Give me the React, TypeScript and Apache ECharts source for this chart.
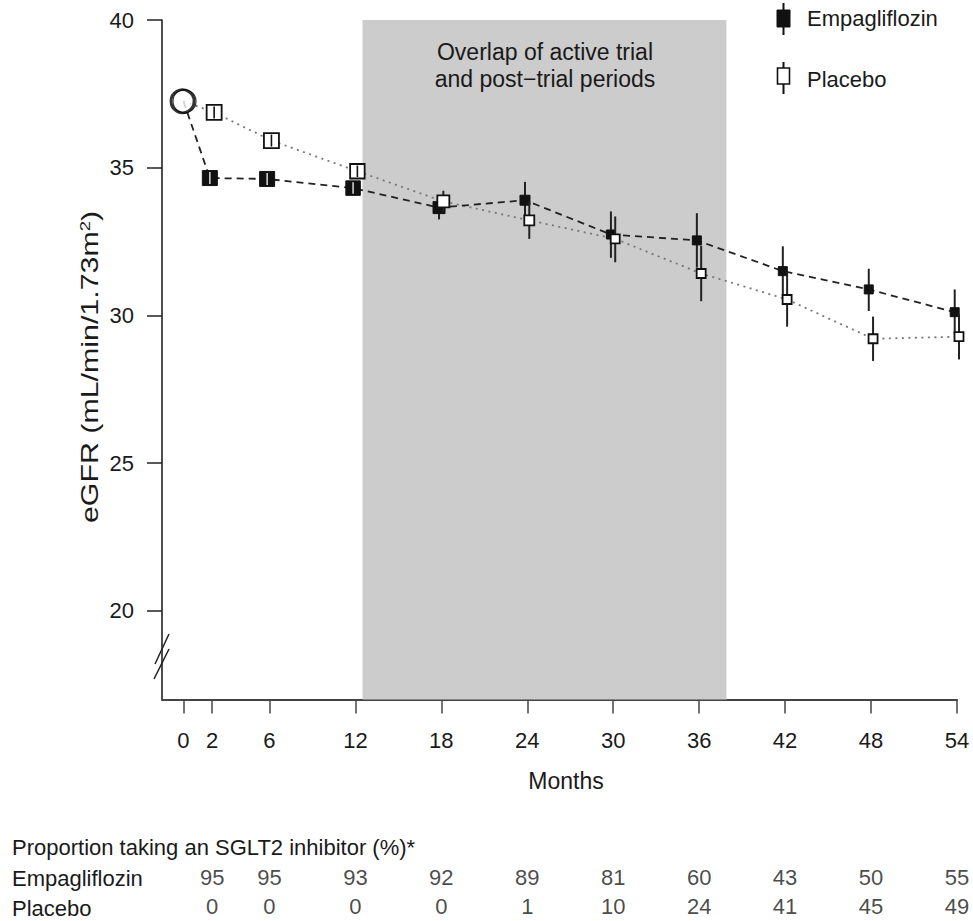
import React, { useEffect, useRef } from "react";
import * as echarts from "echarts";

// ---------- Data ----------
const months = [2, 6, 12, 18, 24, 30, 36, 42, 48, 54];
const baselineMonth = 0;
const baselineEgfr = 37.25;

const empaMean = [34.65, 34.62, 34.31, 33.65, 33.9, 32.74, 32.54, 31.5, 30.88, 30.11];
const empaLow = [34.5, 34.45, 34.12, 33.25, 33.28, 31.95, 31.62, 30.66, 30.15, 29.36];
const empaHigh = [34.8, 34.79, 34.5, 34.05, 34.52, 33.52, 33.46, 32.34, 31.58, 30.88];

const placeboMean = [36.87, 35.92, 34.88, 33.86, 33.22, 32.59, 31.42, 30.54, 29.21, 29.28];
const placeboLow = [36.7, 35.76, 34.71, 33.5, 32.59, 31.8, 30.48, 29.62, 28.46, 28.51];
const placeboHigh = [37.04, 36.08, 35.05, 34.22, 33.85, 33.35, 32.36, 31.47, 29.96, 30.07];

const xTickValues = [0, 2, 6, 12, 18, 24, 30, 36, 42, 48, 54];
const yTickValues = [20, 25, 30, 35, 40];
const overlapStart = 12.5;
const overlapEnd = 37.9;

const tableRows = ["Placebo", "Empagliflozin"];
const empaSglt2 = [95, 95, 93, 92, 89, 81, 60, 43, 50, 55];
const placeboSglt2 = [0, 0, 0, 0, 1, 10, 24, 41, 45, 49];

// ---------- Styles ----------
const FONT = "'Liberation Sans', Arial, Helvetica, sans-serif";
const TXT = "#1a1a1a";
const FS = 22;
const markerSize = [15, 15, 14.5, 12, 10, 9, 9, 9, 9, 9];
const empaDodge = -0.16;
const placeboDodge = 0.14;

function makeRender(filled: boolean) {
  return (params: any, api: any) => {
    const x = api.value(0);
    const m = api.value(1);
    const lo = api.value(2);
    const hi = api.value(3);
    const s = markerSize[params.dataIndex] ?? 9;
    const p = api.coord([x, m]);
    const pl = api.coord([x, lo]);
    const ph = api.coord([x, hi]);
    const children: any[] = [
      {
        type: "line",
        shape: { x1: p[0], y1: pl[1], x2: p[0], y2: ph[1] },
        style: { stroke: "#222", lineWidth: 2 },
      },
      {
        type: "rect",
        shape: { x: p[0] - s / 2, y: p[1] - s / 2, width: s, height: s },
        style: {
          fill: filled ? "#111" : "#fff",
          stroke: "#111",
          lineWidth: filled ? 1 : 1.8,
        },
      },
    ];
    if (s >= 13) {
      children.push({
        type: "line",
        shape: { x1: p[0], y1: p[1] - s / 2 + 1.5, x2: p[0], y2: p[1] + s / 2 - 1.5 },
        style: { stroke: filled ? "#cfcfcf" : "#111", lineWidth: 1.6 },
      });
    }
    return { type: "group", children };
  };
}

export default function App() {
  const ref = useRef<HTMLDivElement>(null);

  useEffect(() => {
    if (!ref.current) return;
    const chart = echarts.init(ref.current, undefined, { renderer: "svg" });

    const empaLine = [[baselineMonth, baselineEgfr], ...months.map((mo, i) => [mo + empaDodge, empaMean[i]])];
    const placeboLine = [
      [baselineMonth, baselineEgfr],
      ...months.map((mo, i) => [mo + placeboDodge, placeboMean[i]]),
    ];
    const empaPts = months.map((mo, i) => [mo + empaDodge, empaMean[i], empaLow[i], empaHigh[i]]);
    const placeboPts = months.map((mo, i) => [mo + placeboDodge, placeboMean[i], placeboLow[i], placeboHigh[i]]);

    const tableData: any[] = [];
    months.forEach((mo, i) => {
      tableData.push([mo, "Empagliflozin", empaSglt2[i]]);
      tableData.push([mo, "Placebo", placeboSglt2[i]]);
    });

    const option: any = {
      animation: false,
      backgroundColor: "#ffffff",
      textStyle: { fontFamily: FONT, color: TXT },
      grid: [
        { left: 162, top: 20, width: 795, height: 679.5, containLabel: false },
        { left: 162, top: 863.5, width: 795, height: 61, containLabel: false },
      ],
      xAxis: [
        {
          type: "value",
          gridIndex: 0,
          min: -1.5,
          max: 54,
          splitLine: { show: false },
          axisLine: { show: true, onZero: false, lineStyle: { color: "#444", width: 2 } },
          axisTick: { show: true, length: 14, customValues: xTickValues, lineStyle: { color: "#444", width: 1.5 } },
          axisLabel: {
            show: true,
            customValues: xTickValues,
            margin: 30,
            fontSize: FS,
            color: TXT,
            fontFamily: FONT,
          },
        },
        {
          type: "value",
          gridIndex: 1,
          min: -1.5,
          max: 54,
          show: false,
        },
      ],
      yAxis: [
        {
          type: "value",
          gridIndex: 0,
          min: 17,
          max: 40,
          splitLine: { show: false },
          axisLine: { show: true, onZero: false, lineStyle: { color: "#222", width: 1.6 } },
          axisTick: { show: true, length: 15, customValues: yTickValues, lineStyle: { color: "#222", width: 1.5 } },
          axisLabel: {
            show: true,
            customValues: yTickValues,
            margin: 28,
            fontSize: FS,
            color: TXT,
            fontFamily: FONT,
          },
        },
        {
          type: "category",
          gridIndex: 1,
          data: tableRows,
          show: false,
        },
      ],
      series: [
        {
          type: "line",
          name: "shade",
          xAxisIndex: 0,
          yAxisIndex: 0,
          data: [],
          silent: true,
          z: 0,
          markArea: {
            silent: true,
            itemStyle: { color: "#cccccc" },
            data: [[{ xAxis: overlapStart }, { xAxis: overlapEnd }]],
          },
        },
        {
          type: "line",
          name: "Placebo line",
          data: placeboLine,
          symbol: "none",
          lineStyle: { color: "#777", width: 1.8, type: [2, 4.5] },
          z: 2,
        },
        {
          type: "line",
          name: "Empagliflozin line",
          data: empaLine,
          symbol: "none",
          lineStyle: { color: "#222", width: 1.8, type: [7, 5] },
          z: 3,
        },
        {
          type: "scatter",
          name: "Baseline",
          data: [[baselineMonth, baselineEgfr]],
          symbol: "circle",
          symbolSize: 23,
          symbolOffset: [-1, 0],
          itemStyle: { color: "#fff", borderColor: "#000", borderWidth: 2.8 },
          z: 5,
        },
        {
          type: "scatter",
          name: "Baseline2",
          data: [[baselineMonth, baselineEgfr]],
          symbol: "circle",
          symbolSize: 23,
          symbolOffset: [1, 0],
          itemStyle: { color: "rgba(255,255,255,0)", borderColor: "#000", borderWidth: 1.2 },
          z: 6,
        },
        {
          type: "custom",
          name: "Empagliflozin",
          data: empaPts,
          renderItem: makeRender(true),
          z: 7,
        },
        {
          type: "custom",
          name: "Placebo",
          data: placeboPts,
          renderItem: makeRender(false),
          z: 8,
        },
        {
          type: "scatter",
          name: "table",
          xAxisIndex: 1,
          yAxisIndex: 1,
          data: tableData,
          symbolSize: 1,
          itemStyle: { color: "rgba(0,0,0,0)" },
          label: {
            show: true,
            position: "inside",
            formatter: (p: any) => String(p.value[2]),
            fontSize: FS,
            color: TXT,
            fontFamily: FONT,
          },
        },
      ],
      graphic: [
        // axis break marks
        { type: "line", shape: { x1: 169, y1: 634, x2: 155, y2: 664 }, style: { stroke: "#222", lineWidth: 1.5 } },
        { type: "line", shape: { x1: 169, y1: 649, x2: 154, y2: 679 }, style: { stroke: "#222", lineWidth: 1.5 } },
        // shaded region caption
        {
          type: "text",
          x: 545,
          y: 52,
          z: 10,
          style: { text: "Overlap of active trial", fontSize: 23, fontFamily: FONT, fill: TXT, align: "center", verticalAlign: "middle" },
        },
        {
          type: "text",
          x: 545,
          y: 79,
          z: 10,
          style: { text: "and post\u2212trial periods", fontSize: 23, fontFamily: FONT, fill: TXT, align: "center", verticalAlign: "middle" },
        },
        // y axis title
        {
          type: "text",
          x: 90,
          y: 367,
          rotation: Math.PI / 2,
          scaleX: 1.32,
          style: {
            text: "eGFR (mL/min/1.73m{sup|2})",
            fontSize: 23,
            fontFamily: FONT,
            fill: TXT,
            align: "center",
            verticalAlign: "middle",
            rich: { sup: { fontSize: 14, fontFamily: FONT, fill: TXT, verticalAlign: "top", padding: [0, 0, 10, 0] } },
          },
        },
        // x axis title
        {
          type: "text",
          x: 566,
          y: 781,
          style: { text: "Months", fontSize: 23, fontFamily: FONT, fill: TXT, align: "center", verticalAlign: "middle" },
        },
        // legend
        { type: "line", shape: { x1: 783.5, y1: 3, x2: 783.5, y2: 35 }, style: { stroke: "#111", lineWidth: 2 } },
        { type: "rect", shape: { x: 777, y: 10, width: 13, height: 17 }, style: { fill: "#111", stroke: "#111", lineWidth: 1 } },
        {
          type: "text",
          x: 807,
          y: 18,
          style: { text: "Empagliflozin", fontSize: FS, fontFamily: FONT, fill: TXT, align: "left", verticalAlign: "middle" },
        },
        { type: "line", shape: { x1: 783.5, y1: 62, x2: 783.5, y2: 94 }, style: { stroke: "#111", lineWidth: 2 } },
        { type: "rect", shape: { x: 777.5, y: 68, width: 12, height: 16 }, style: { fill: "#fff", stroke: "#111", lineWidth: 1.6 } },
        {
          type: "text",
          x: 807,
          y: 79,
          style: { text: "Placebo", fontSize: FS, fontFamily: FONT, fill: TXT, align: "left", verticalAlign: "middle" },
        },
        // table heading and row labels
        {
          type: "text",
          x: 12,
          y: 847,
          style: { text: "Proportion taking an SGLT2 inhibitor (%)*", fontSize: FS, fontFamily: FONT, fill: TXT, align: "left", verticalAlign: "middle" },
        },
        {
          type: "text",
          x: 12,
          y: 878.5,
          style: { text: "Empagliflozin", fontSize: FS, fontFamily: FONT, fill: TXT, align: "left", verticalAlign: "middle" },
        },
        {
          type: "text",
          x: 12,
          y: 908,
          style: { text: "Placebo", fontSize: FS, fontFamily: FONT, fill: TXT, align: "left", verticalAlign: "middle" },
        },
      ],
    };

    chart.setOption(option);
    return () => {
      chart.dispose();
    };
  }, []);

  return (
    <div
      ref={ref}
      style={{ position: "fixed", left: 0, top: 0, width: 973, height: 921, background: "#fff" }}
    />
  );
}
